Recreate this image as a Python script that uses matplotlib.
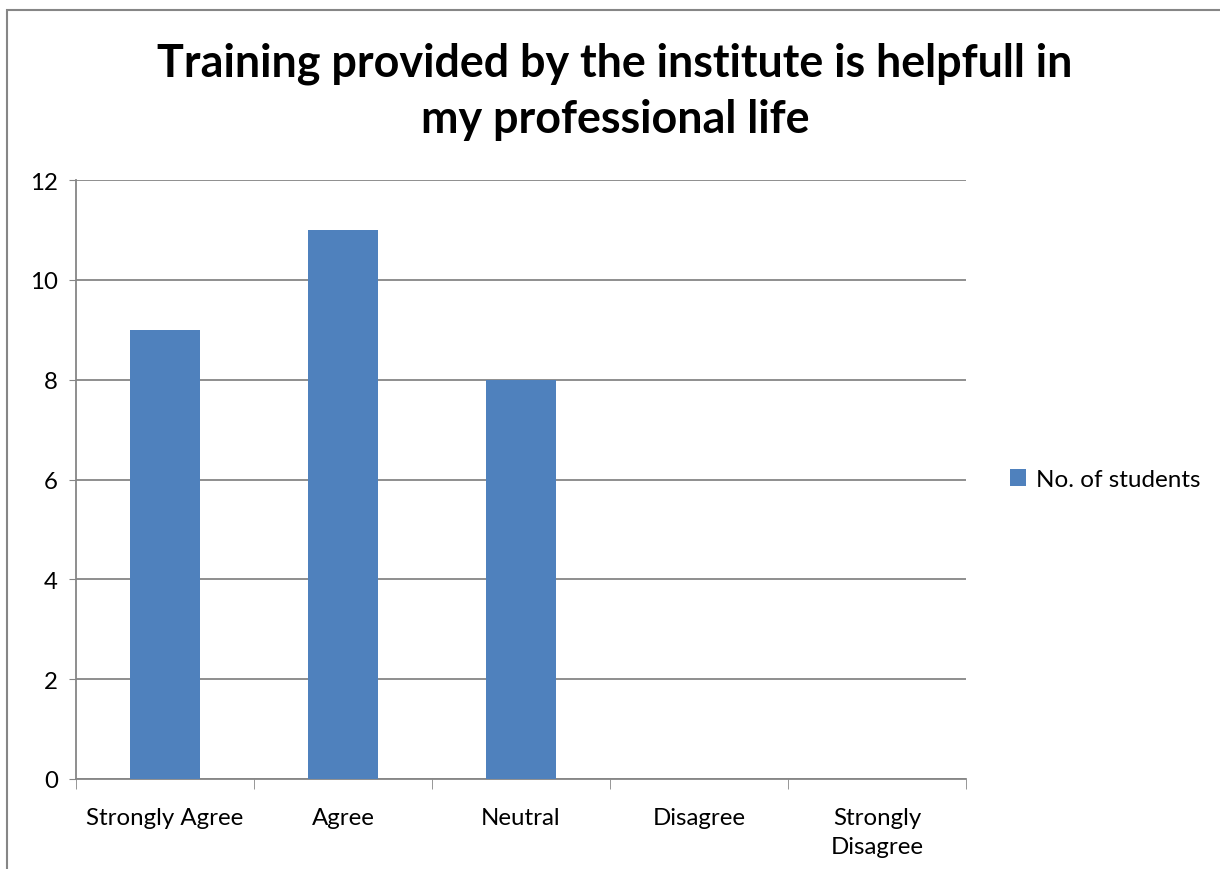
import matplotlib.pyplot as plt
from matplotlib.patches import Rectangle
import numpy as np

categories = ["Strongly Agree", "Agree", "Neutral", "Disagree", "Strongly\nDisagree"]
students = [9, 11, 8, 0, 0]
series_name = "No. of students"
title = "Training provided by the institute is helpfull in\nmy professional life"

plt.rcParams['font.family'] = ['Lato', 'DejaVu Sans']

fig = plt.figure(figsize=(12.2, 8.7), dpi=100)
ax = fig.add_axes([76 / 1220, 1 - 780 / 870, (966 - 76) / 1220, (780 - 181) / 870])

x = np.arange(len(categories))
ax.bar(x, students, width=0.393, color="#4F81BD", label=series_name, zorder=3)

ax.set_xlim(-0.5, len(categories) - 0.5)
ax.set_ylim(0, 12)
ax.set_yticks(range(0, 13, 2))
ax.set_xticks(x)
ax.set_xticklabels(categories, fontsize=17.3, linespacing=1.5)
ax.tick_params(axis='y', labelsize=17.3, length=5, color="#868686", pad=8)
ax.tick_params(axis='x', length=0, pad=20)
ax.set_xticks(np.arange(-0.5, len(categories)), minor=True)
ax.tick_params(axis='x', which='minor', length=7, color="#868686")

ax.grid(axis='y', color="#868686", linewidth=1.3, zorder=0)
for s in ['top', 'right']:
    ax.spines[s].set_visible(False)
for s in ['left', 'bottom']:
    ax.spines[s].set_color("#868686")
    ax.spines[s].set_linewidth(1.3)

fig.text(615 / 1220, 1 - 92 / 870, title, ha='center', va='center',
         fontsize=32.3, fontweight='bold', linespacing=1.4)

ax.legend(loc='center left', bbox_to_anchor=(1.025, 0.5), frameon=False,
          fontsize=17.5, handlelength=0.65, handleheight=0.65, handletextpad=0.4)

fig.patches.append(Rectangle((7 / 1220, -0.1), 1.2, 1 - 11 / 870 + 0.1,
                             transform=fig.transFigure, fill=False,
                             edgecolor="#868686", linewidth=1.5))

fig.savefig("out.png", dpi=100)
